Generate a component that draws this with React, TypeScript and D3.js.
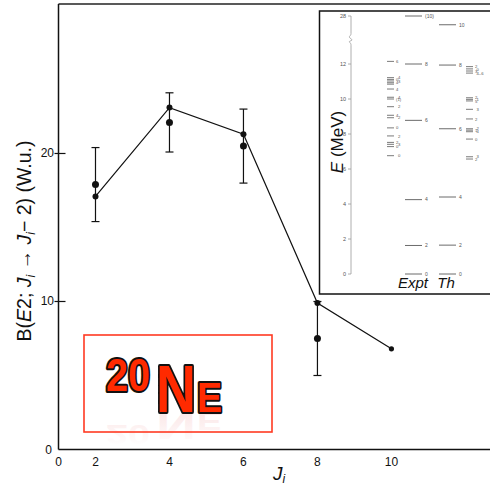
import React from 'react';
import * as d3 from 'd3';

// main panel: B(E2) vs spin
const spins = [2, 4, 6, 8, 10];
const theoryBE2 = [17.1, 23.1, 21.3, 9.9, 6.8];
const exptSpins = [2, 4, 6, 8];
const exptBE2 = [17.9, 22.1, 20.5, 7.5];
const exptErr = [2.5, 2.0, 2.5, 2.5];
const xTickValues = [1, 2, 4, 6, 8, 10];
const xTickLabels = ['0', '2', '4', '6', '8', '10'];
const yTickValues = [0, 10, 20];

// inset: level scheme (MeV)
const exptYrastE = [0, 1.63, 4.25, 8.78, 12.0, 28.0];
const exptYrastJ = ['0', '2', '4', '6', '8', '(10)'];
const thYrastE = [0, 1.65, 4.4, 8.3, 11.94, 27.5];
const thYrastJ = ['0', '2', '4', '6', '8', '10'];
const exptOtherE = [12.15, 11.22, 11.12, 11.03, 10.93, 10.85, 10.57, 10.1, 10.0, 9.56, 9.07, 8.93, 8.35, 7.89, 7.52, 7.41, 7.28, 6.76];
const exptOtherJ = ['6', '4', '0', '3', '4', '', '4', '4', '(1)', '2', '4', '2', '0', '2', '2', '3', '0', '0'];
const thOtherE = [11.85, 11.72, 11.6, 11.48, 10.07, 9.98, 9.89, 9.41, 8.86, 8.3, 8.22, 8.13, 7.71, 6.7, 6.57];
const thOtherJ = ['2', '0', '3', '4–6', '2', '1', '5', '3', '2', '2', '1', '4', '0', '3', '2'];
const insetLowTicks = [0, 2, 4, 6, 8, 10, 12];
const insetHighTicks = [28];

const W = 490;
const H = 486;
const sans = '"Liberation Sans", Arial, Helvetica, sans-serif';

export default function App() {
  const x = d3.scaleLinear().domain([1, 12.8]).range([58.5, 495]);
  const y = d3.scaleLinear().domain([0, 30.1]).range([449.5, 4]);

  const line = d3
    .line<number>()
    .x((_, i) => x(spins[i]))
    .y((d) => y(d));

  // inset energy scale with a break between 12.9 and 26.9 MeV
  const e = d3.scaleLinear().domain([0, 12.9, 26.9, 29]).range([274, 48.25, 35.25, -1.5]);
  const axX = 351;
  const brkTop = e(26.9) - 2;
  const brkBot = e(12.9) - 3;
  const squiggle = d3
    .line<[number, number]>()
    .curve(d3.curveBasis)([
      [axX, brkBot],
      [axX, brkBot - 2],
      [axX - 3, brkBot - 4],
      [axX + 3, (brkBot + brkTop) / 2 + 1],
      [axX - 3, (brkBot + brkTop) / 2 - 2],
      [axX, brkTop + 2],
      [axX, brkTop],
    ]);

  const lvlColor = '#6b6b6b';
  const exptShort = [387, 394];
  const exptLong = [405, 422];
  const thLong = [439, 456];
  const thShort = [466, 473];

  // logo baseline for the mirrored reflection
  const logoBase = 412;

  return (
    <svg width={W} height={H} style={{ position: 'absolute', left: 0, top: 0, background: '#fff' }}>
      <rect x={0} y={0} width={W} height={H} fill="#fff" />

      {/* frame */}
      <line x1={x(1)} x2={W} y1={y(30.1)} y2={y(30.1)} stroke="#222" strokeWidth={1.3} />
      <line x1={x(1)} x2={x(1)} y1={y(30.1)} y2={y(0)} stroke="#111" strokeWidth={1.5} />
      <line x1={x(1)} x2={W} y1={y(0)} y2={y(0)} stroke="#111" strokeWidth={1.5} />

      {/* y ticks */}
      {yTickValues.map((t) => (
        <g key={t}>
          {t > 0 && <line x1={x(1) - 4} x2={x(1) + 7} y1={y(t)} y2={y(t)} stroke="#111" strokeWidth={1.2} />}
          <text x={t > 0 ? 54 : 52} y={y(t) + 4} textAnchor="end" fontSize={12} fontFamily={sans} fill="#111">
            {t}
          </text>
        </g>
      ))}

      {/* x tick labels */}
      {xTickValues.map((t, i) => (
        <text key={t} x={x(t)} y={y(0) + 16} textAnchor="middle" fontSize={12} fontFamily={sans} fill="#111">
          {xTickLabels[i]}
        </text>
      ))}

      {/* axis titles */}
      <text x={273} y={480} fontSize={19} fontFamily={sans} fill="#111">
        <tspan fontStyle="italic">J</tspan>
        <tspan fontStyle="italic" fontSize={12} dy={3}>i</tspan>
      </text>
      <text
        transform={`translate(31,${241}) rotate(-90)`}
        textAnchor="middle"
        fontSize={19.5}
        fontFamily={sans}
        fill="#111"
      >
        B(<tspan fontStyle="italic">E</tspan>2; <tspan fontStyle="italic">J</tspan>
        <tspan fontStyle="italic" fontSize={12} dy={4}>i</tspan>
        <tspan dy={-4}> → </tspan>
        <tspan fontStyle="italic">J</tspan>
        <tspan fontStyle="italic" fontSize={12} dy={4}>i</tspan>
        <tspan dy={-4}>− 2) (W.u.)</tspan>
      </text>

      {/* theory line */}
      <path d={line(theoryBE2) ?? ''} fill="none" stroke="#111" strokeWidth={1.2} />
      {theoryBE2.map((v, i) => (
        <circle key={i} cx={x(spins[i])} cy={y(v)} r={i === spins.length - 1 ? 2.6 : 3} fill="#111" />
      ))}

      {/* experiment with error bars */}
      {exptBE2.map((v, i) => {
        const cx = x(exptSpins[i]);
        const lo = y(v - exptErr[i]);
        const hi = y(v + exptErr[i]);
        return (
          <g key={i}>
            <line x1={cx} x2={cx} y1={lo} y2={hi} stroke="#111" strokeWidth={1.2} />
            <line x1={cx - 4} x2={cx + 4} y1={lo} y2={lo} stroke="#111" strokeWidth={1.2} />
            <line x1={cx - 4} x2={cx + 4} y1={hi} y2={hi} stroke="#111" strokeWidth={1.2} />
            <circle cx={cx} cy={y(v)} r={3.5} fill="#111" />
          </g>
        );
      })}

      {/* inset level scheme */}
      <g>
        <rect x={319.5} y={11} width={200} height={283} fill="#fff" stroke="#111" strokeWidth={1.5} />
        <line x1={axX} x2={axX} y1={e(0)} y2={brkBot} stroke="#9a9a9a" strokeWidth={0.8} />
        <line x1={axX} x2={axX} y1={brkTop} y2={e(28)} stroke="#9a9a9a" strokeWidth={0.8} />
        <path d={squiggle ?? ''} fill="none" stroke="#9a9a9a" strokeWidth={0.8} />
        {[...insetLowTicks, ...insetHighTicks].map((t) => (
          <g key={t}>
            <line x1={axX - 3} x2={axX} y1={e(t)} y2={e(t)} stroke="#9a9a9a" strokeWidth={0.8} />
            <text x={axX - 5} y={e(t) + 2} textAnchor="end" fontSize={5.5} fontFamily={sans} fill="#555">
              {t}
            </text>
          </g>
        ))}
        <text
          transform={`translate(343,142) rotate(-90)`}
          textAnchor="middle"
          fontSize={17}
          fontFamily={sans}
          fill="#111"
        >
          <tspan fontStyle="italic">E</tspan> (MeV)
        </text>

        {exptYrastE.map((v, i) => (
          <g key={'ey' + i}>
            <line x1={exptLong[0]} x2={exptLong[1]} y1={e(v)} y2={e(v)} stroke={lvlColor} strokeWidth={1} />
            <text x={exptLong[1] + 3} y={e(v) + 1.8} fontSize={5} fontFamily={sans} fill="#555">
              {exptYrastJ[i]}
            </text>
          </g>
        ))}
        {thYrastE.map((v, i) => (
          <g key={'ty' + i}>
            <line x1={thLong[0]} x2={thLong[1]} y1={e(v)} y2={e(v)} stroke={lvlColor} strokeWidth={1} />
            <text x={thLong[1] + 3} y={e(v) + 1.8} fontSize={5} fontFamily={sans} fill="#555">
              {thYrastJ[i]}
            </text>
          </g>
        ))}
        {exptOtherE.map((v, i) => (
          <g key={'eo' + i}>
            <line x1={exptShort[0]} x2={exptShort[1]} y1={e(v)} y2={e(v)} stroke={lvlColor} strokeWidth={0.9} />
            <text x={exptShort[1] + 2 + (i % 2) * 2} y={e(v) + 1.6} fontSize={4.2} fontFamily={sans} fill="#555">
              {exptOtherJ[i]}
            </text>
          </g>
        ))}
        {thOtherE.map((v, i) => (
          <g key={'to' + i}>
            <line x1={thShort[0]} x2={thShort[1]} y1={e(v)} y2={e(v)} stroke={lvlColor} strokeWidth={0.9} />
            <text x={thShort[1] + 2 + (i % 2) * 1.5} y={e(v) + 1.6} fontSize={4.2} fontFamily={sans} fill="#555">
              {thOtherJ[i]}
            </text>
          </g>
        ))}

        <text x={413} y={288} textAnchor="middle" fontSize={15} fontStyle="italic" fontFamily={sans} fill="#111">
          Expt
        </text>
        <text x={446} y={288} textAnchor="middle" fontSize={15} fontStyle="italic" fontFamily={sans} fill="#111">
          Th
        </text>
      </g>

      {/* 20Ne label box */}
      <defs>
        <linearGradient id="fade" x1="0" y1="0" x2="0" y2="1">
          <stop offset="0" stopColor="#fff" stopOpacity={0.35} />
          <stop offset="1" stopColor="#fff" stopOpacity={1} />
        </linearGradient>
      </defs>
      <rect x={84} y={335} width={188} height={97} fill="#fff" stroke="none" />
      <g
        transform={`translate(0,${logoBase}) scale(1,-0.6) translate(0,${-logoBase})`}
        opacity={0.3}
        fill="#e88"
        fontWeight="bold"
        fontFamily={sans}
      >
        <text x={106} y={391} fontSize={46} textLength={44} lengthAdjust="spacingAndGlyphs">20</text>
        <text x={156} y={logoBase} fontSize={66} textLength={40} lengthAdjust="spacingAndGlyphs">N</text>
        <text x={197} y={logoBase} fontSize={43} textLength={25} lengthAdjust="spacingAndGlyphs">E</text>
      </g>
      <rect x={84} y={logoBase} width={188} height={34} fill="url(#fade)" />
      <rect x={84} y={335} width={188} height={97} fill="none" stroke="#ff3a22" strokeWidth={1.6} />
      <g
        fill="#ff2a00"
        stroke="#111"
        strokeWidth={4}
        strokeLinejoin="round"
        style={{ paintOrder: 'stroke' }}
        fontWeight="bold"
        fontFamily={sans}
      >
        <text x={106} y={391} fontSize={46} textLength={44} lengthAdjust="spacingAndGlyphs">20</text>
        <text x={156} y={logoBase} fontSize={66} textLength={40} lengthAdjust="spacingAndGlyphs">N</text>
        <text x={197} y={logoBase} fontSize={43} textLength={25} lengthAdjust="spacingAndGlyphs">E</text>
      </g>
    </svg>
  );
}
